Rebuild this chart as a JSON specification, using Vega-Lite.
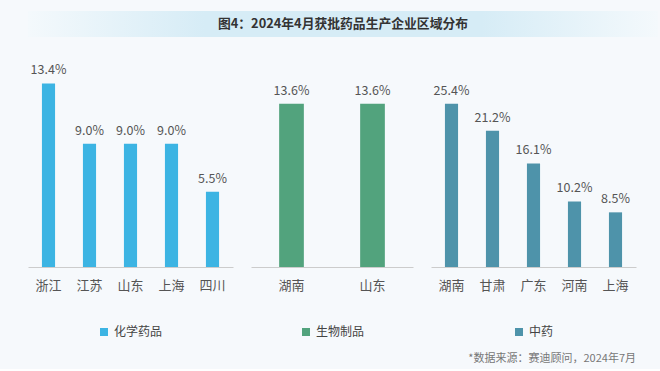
{
  "$schema": "https://vega.github.io/schema/vega-lite/v6.json",
  "background": "#f6f9fc",
  "padding": {"left": 17, "top": 11, "right": 13, "bottom": 5},
  "config": {
    "font": "Noto Sans CJK SC",
    "view": {"stroke": null},
    "legend": {"layout": {"bottom": {"anchor": "middle"}}}
  },
  "datasets": {
    "chem": [
      {"region": "浙江", "value": 0.134, "type": "化学药品"},
      {"region": "江苏", "value": 0.090, "type": "化学药品"},
      {"region": "山东", "value": 0.090, "type": "化学药品"},
      {"region": "上海", "value": 0.090, "type": "化学药品"},
      {"region": "四川", "value": 0.055, "type": "化学药品"}
    ],
    "bio": [
      {"region": "湖南", "value": 0.136, "type": "生物制品"},
      {"region": "山东", "value": 0.136, "type": "生物制品"}
    ],
    "tcm": [
      {"region": "湖南", "value": 0.254, "type": "中药"},
      {"region": "甘肃", "value": 0.212, "type": "中药"},
      {"region": "广东", "value": 0.161, "type": "中药"},
      {"region": "河南", "value": 0.102, "type": "中药"},
      {"region": "上海", "value": 0.085, "type": "中药"}
    ]
  },
  "spacing": 20,
  "vconcat": [
    {
      "width": 630,
      "height": 26,
      "data": {"values": [{"t": "图4：2024年4月获批药品生产企业区域分布"}]},
      "layer": [
        {
          "mark": {
            "type": "rect",
            "color": {
              "gradient": "linear", "x1": 0, "x2": 1, "y1": 0, "y2": 0,
              "stops": [
                {"offset": 0, "color": "#f4f9fc"},
                {"offset": 0.28, "color": "#d6ecf6"},
                {"offset": 0.72, "color": "#d6ecf6"},
                {"offset": 1, "color": "#f4f9fc"}
              ]
            }
          },
          "encoding": {}
        },
        {
          "mark": {"type": "text", "fontSize": 12.8, "fontWeight": "bold", "color": "#333333"},
          "encoding": {"text": {"field": "t"}}
        }
      ]
    },
    {
      "spacing": 18,
      "title": {
        "text": "*数据来源：赛迪顾问，2024年7月",
        "orient": "bottom",
        "anchor": "end",
        "fontSize": 11,
        "fontWeight": "normal",
        "color": "#777777",
        "offset": 15
      },
      "resolve": {
        "scale": {"x": "independent", "y": "independent", "color": "independent"},
        "axis": {"x": "independent", "y": "independent"},
        "legend": {"color": "independent"}
      },
      "hconcat": [
        {
          "width": 205,
          "height": 210,
          "data": {"name": "chem"},
          "encoding": {
            "x": {
              "field": "region", "type": "nominal", "sort": null,
              "scale": {"paddingInner": 0.68, "paddingOuter": 0.34},
              "axis": {"title": null, "labelAngle": 0, "ticks": false, "domainColor": "#cccccc", "labelFontSize": 13, "labelColor": "#555555", "labelPadding": 12}
            },
            "y": {
              "field": "value", "type": "quantitative",
              "scale": {"domain": [0, 0.1533]},
              "axis": {"title": null, "labels": false, "ticks": false, "domain": false, "grid": false, "minExtent": 11, "maxExtent": 11}
            }
          },
          "layer": [
            {
              "mark": {"type": "bar"},
              "encoding": {
                "color": {
                  "field": "type", "type": "nominal",
                  "scale": {"range": ["#3cb4e3"]},
                  "legend": {"title": null, "orient": "bottom", "offset": 34, "symbolType": "square", "symbolSize": 64, "labelFontSize": 12, "labelColor": "#444444"}
                }
              }
            },
            {
              "mark": {"type": "text", "dy": -13, "fontSize": 12.5, "color": "#555555"},
              "encoding": {"text": {"field": "value", "format": ".1%"}}
            }
          ]
        },
        {
          "width": 162,
          "height": 210,
          "data": {"name": "bio"},
          "encoding": {
            "x": {
              "field": "region", "type": "nominal", "sort": null,
              "scale": {"paddingInner": 0.695, "paddingOuter": 0.3475},
              "axis": {"title": null, "labelAngle": 0, "ticks": false, "domainColor": "#cccccc", "labelFontSize": 13, "labelColor": "#555555", "labelPadding": 12}
            },
            "y": {
              "field": "value", "type": "quantitative",
              "scale": {"domain": [0, 0.175]},
              "axis": null
            }
          },
          "layer": [
            {
              "mark": {"type": "bar"},
              "encoding": {
                "color": {
                  "field": "type", "type": "nominal",
                  "scale": {"range": ["#52a37d"]},
                  "legend": {"title": null, "orient": "bottom", "offset": 34, "symbolType": "square", "symbolSize": 64, "labelFontSize": 12, "labelColor": "#444444"}
                }
              }
            },
            {
              "mark": {"type": "text", "dy": -13, "fontSize": 12.5, "color": "#555555"},
              "encoding": {"text": {"field": "value", "format": ".1%"}}
            }
          ]
        },
        {
          "width": 205,
          "height": 210,
          "data": {"name": "tcm"},
          "encoding": {
            "x": {
              "field": "region", "type": "nominal", "sort": null,
              "scale": {"paddingInner": 0.68, "paddingOuter": 0.34},
              "axis": {"title": null, "labelAngle": 0, "ticks": false, "domainColor": "#cccccc", "labelFontSize": 13, "labelColor": "#555555", "labelPadding": 12}
            },
            "y": {
              "field": "value", "type": "quantitative",
              "scale": {"domain": [0, 0.3266]},
              "axis": null
            }
          },
          "layer": [
            {
              "mark": {"type": "bar"},
              "encoding": {
                "color": {
                  "field": "type", "type": "nominal",
                  "scale": {"range": ["#4e93aa"]},
                  "legend": {"title": null, "orient": "bottom", "offset": 34, "symbolType": "square", "symbolSize": 64, "labelFontSize": 12, "labelColor": "#444444"}
                }
              }
            },
            {
              "mark": {"type": "text", "dy": -13, "fontSize": 12.5, "color": "#555555"},
              "encoding": {"text": {"field": "value", "format": ".1%"}}
            }
          ]
        }
      ]
    }
  ]
}
